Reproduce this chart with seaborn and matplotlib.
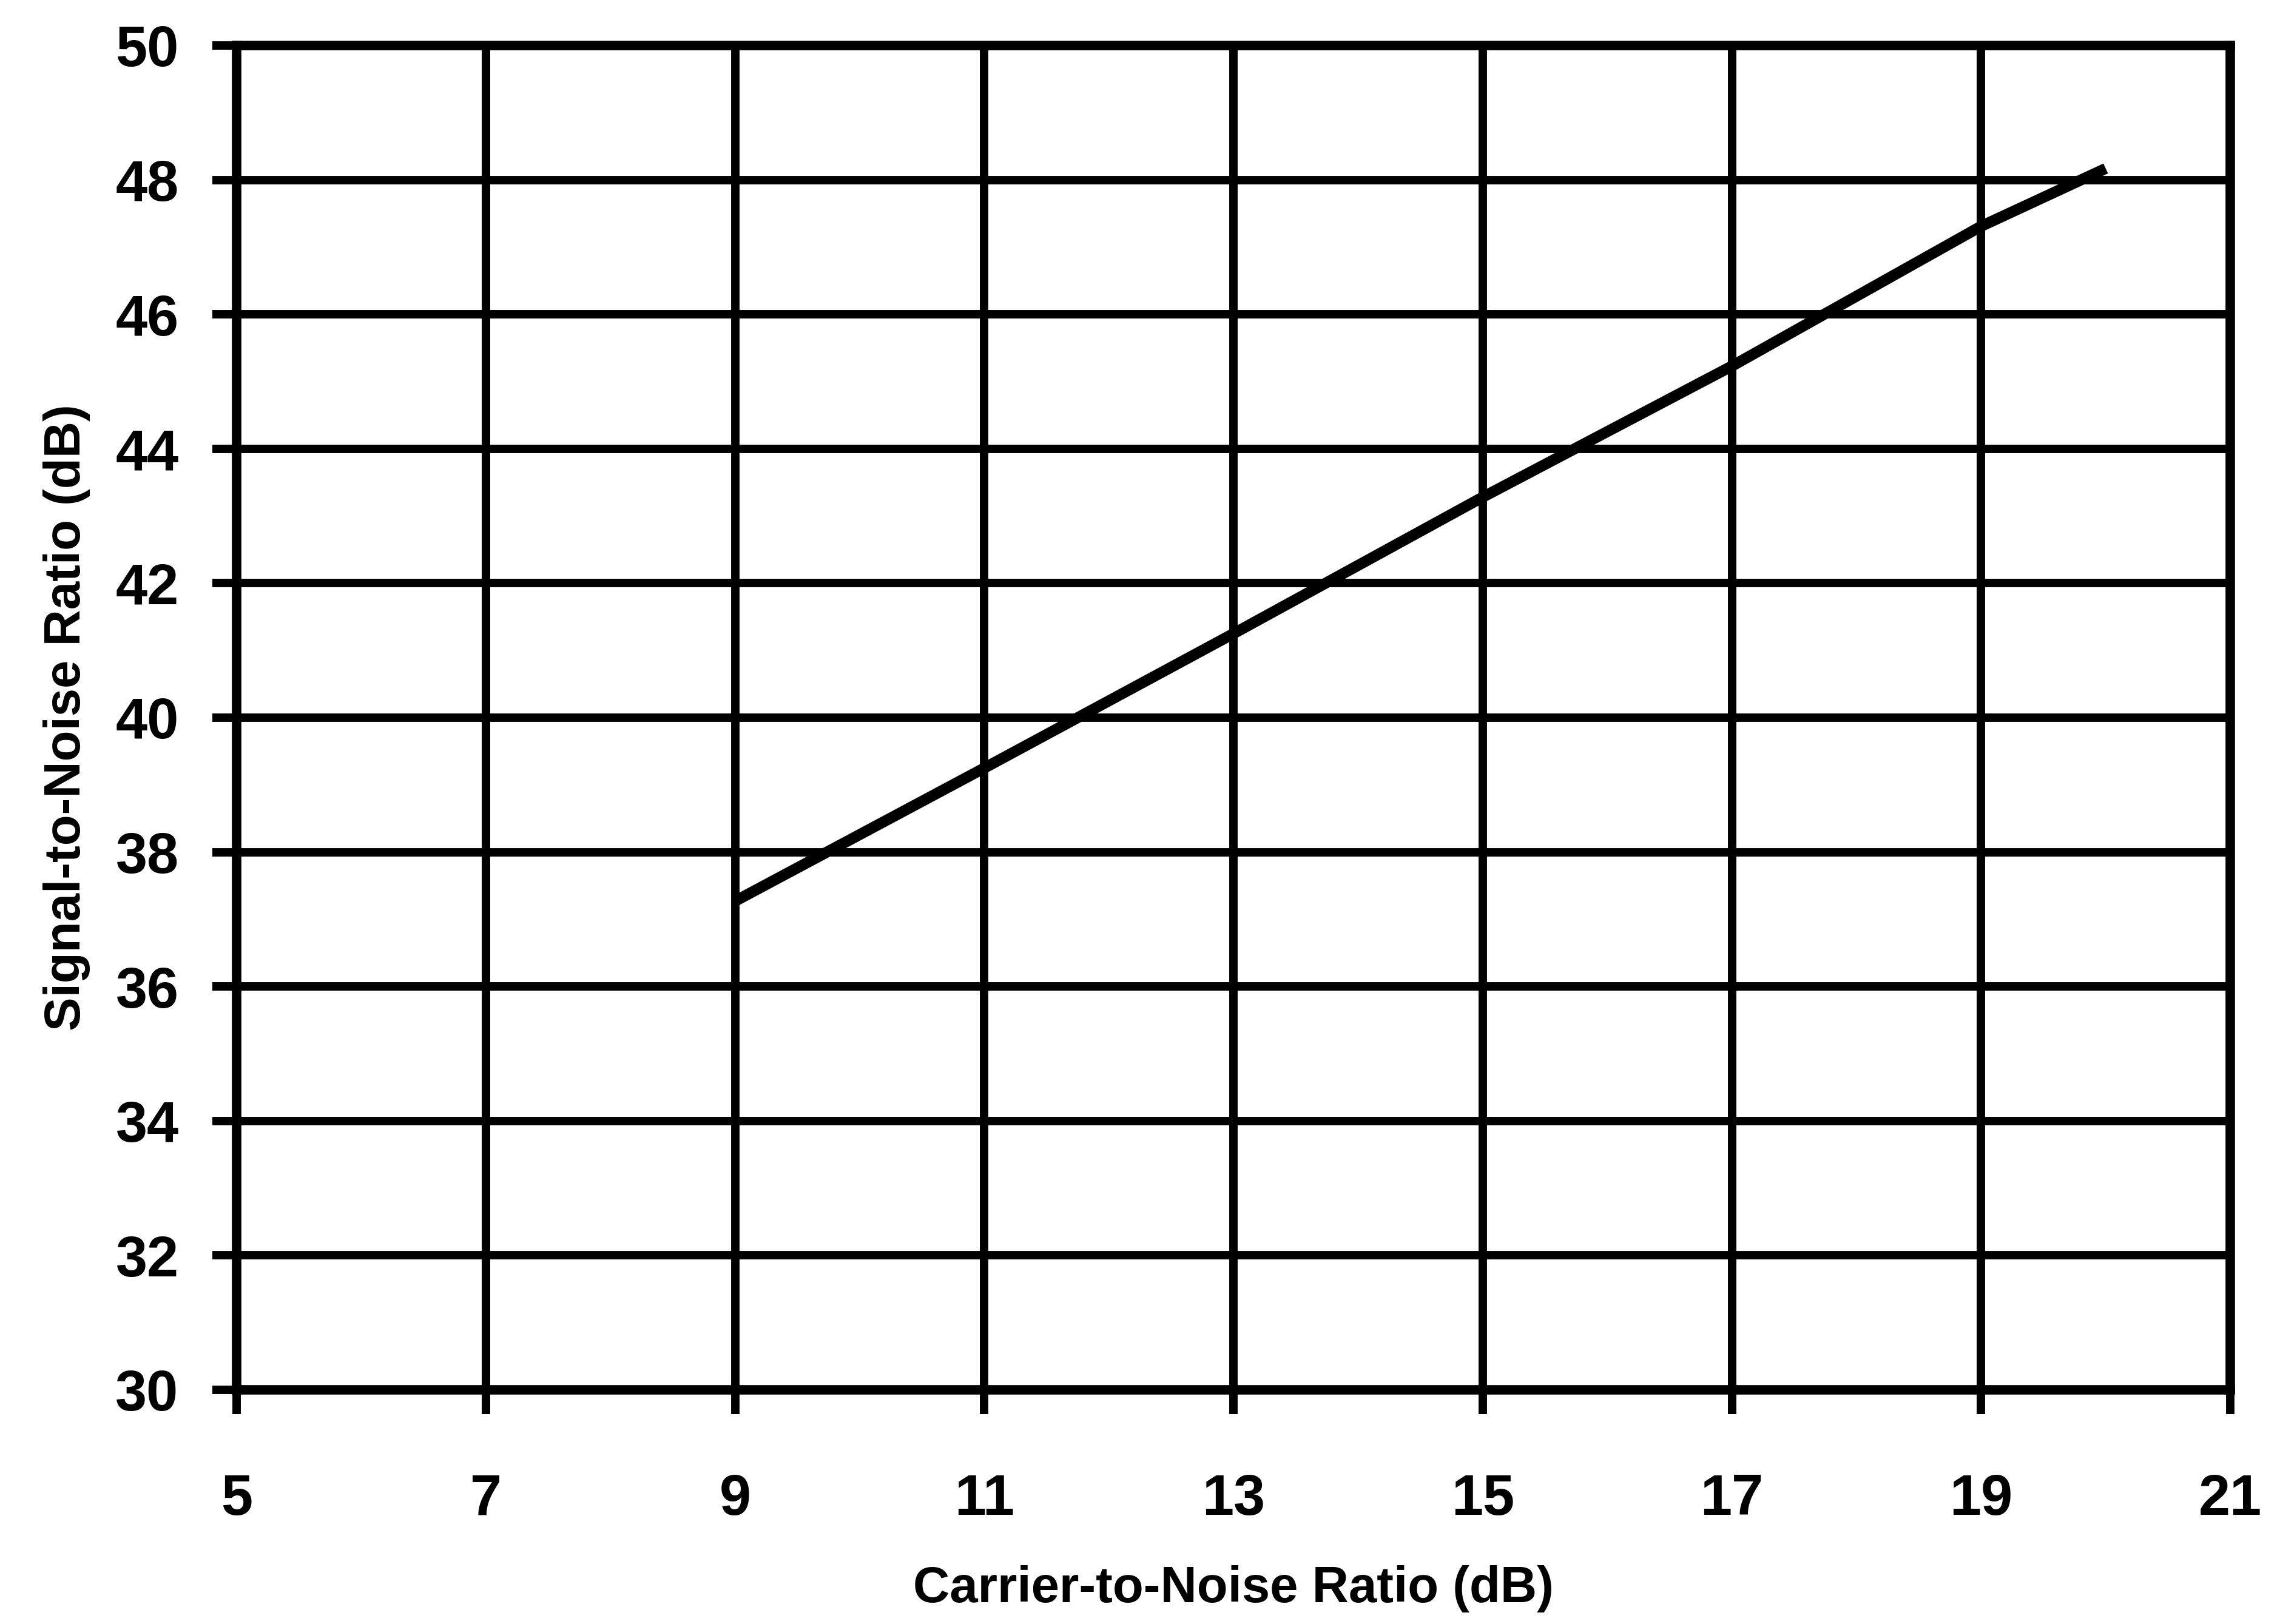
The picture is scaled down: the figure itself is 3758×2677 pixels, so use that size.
"""
Signal-to-noise vs carrier-to-noise ratio (single curve, heavy grid).
"""

import numpy as np
import pandas as pd
import matplotlib
matplotlib.use('Agg')
import matplotlib.pyplot as plt
import seaborn as sns

# 1. DATA
cnr_db = [9, 11, 13, 15, 17, 19, 20]
snr_db = [37.27, 39.25, 41.25, 43.28, 45.23, 47.31, 48.17]

x_ticks = [5, 7, 9, 11, 13, 15, 17, 19, 21]
y_ticks = [30, 32, 34, 36, 38, 40, 42, 44, 46, 48, 50]

df = pd.DataFrame({'cnr': cnr_db, 'snr': snr_db})

# 2. STYLE
sns.set_theme(style='white')
plt.rcParams['font.family'] = ['Liberation Sans Narrow', 'Liberation Sans', 'DejaVu Sans']
plt.rcParams['font.weight'] = 'bold'
plt.rcParams['text.color'] = 'black'
plt.rcParams['axes.labelcolor'] = 'black'
plt.rcParams['xtick.color'] = 'black'
plt.rcParams['ytick.color'] = 'black'

DPI = 250
fig = plt.figure(figsize=(3758 / DPI, 2677 / DPI), dpi=DPI)
ax = fig.add_axes([0.1038, 0.1442, 0.9782 - 0.1038, 0.972 - 0.1442])

# 3. PLOT
sns.lineplot(data=df, x='cnr', y='snr', ax=ax, color='black', lw=5.2,
             solid_capstyle='butt', zorder=3)

ax.set_xlim(5, 21)
ax.set_ylim(30, 50)
ax.set_xticks(x_ticks)
ax.set_yticks(y_ticks)
ax.set_xticklabels([str(v) for v in x_ticks])
ax.set_yticklabels([str(v) for v in y_ticks])

ax.grid(True, color='black', lw=4, zorder=1)
ax.set_axisbelow(True)
for s in ax.spines.values():
    s.set_visible(True)
    s.set_color('black')
    s.set_linewidth(4.5)

ax.tick_params(axis='x', direction='out', length=11.5, width=4, colors='black',
               pad=28, labelsize=27, bottom=True)
ax.tick_params(axis='y', direction='out', length=11.5, width=4, colors='black',
               pad=16, labelsize=27, left=True)
for lab in ax.get_xticklabels() + ax.get_yticklabels():
    lab.set_fontweight('bold')

ax.set_xlabel('Carrier-to-Noise Ratio (dB)', fontsize=24, fontweight='bold',
              labelpad=18, color='black')
ax.set_ylabel('Signal-to-Noise Ratio (dB)', fontsize=24, fontweight='bold',
              labelpad=12, color='black')

fig.savefig('out.png', dpi=DPI, facecolor='white')
